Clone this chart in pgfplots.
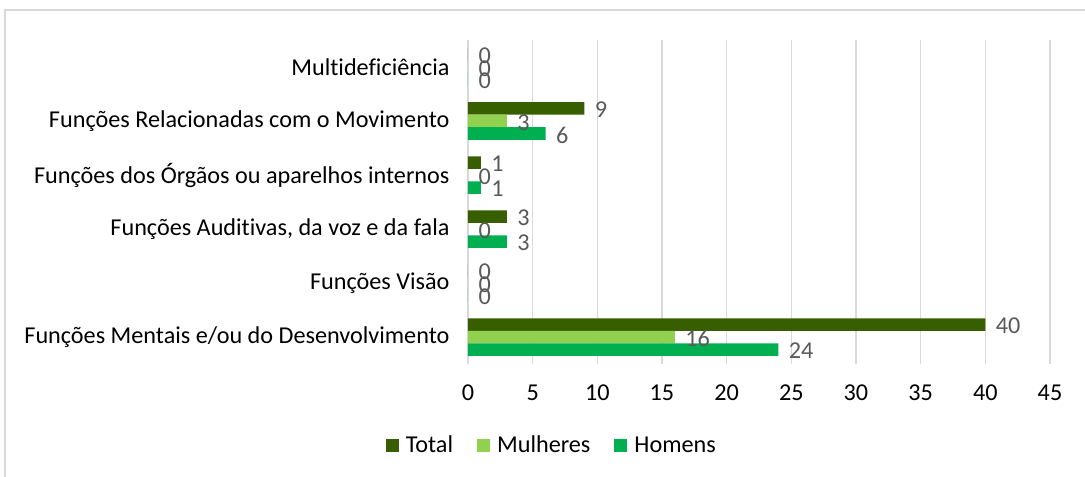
\documentclass[border=0pt]{standalone}
\usepackage{pgfplots}
\pgfplotsset{compat=1.18}
\usepackage{fontspec}
\setmainfont[Ligatures=NoCommon]{Carlito}
\definecolor{cTot}{HTML}{375F00}
\definecolor{cMul}{HTML}{92D050}
\definecolor{cHom}{HTML}{00B050}
\definecolor{gridc}{HTML}{D9D9D9}
\definecolor{lab}{HTML}{595959}
\begin{document}
\begin{tikzpicture}[font=\fontsize{24.2bp}{29bp}\selectfont]
\path[use as bounding box] (-468bp,-113bp) rectangle (617bp,364bp);
\draw[gridc, line width=1.5bp] (-463bp,-113bp) -- (-463bp,354bp) -- (617bp,354bp);
\begin{axis}[
  at={(0,0)}, anchor=south west,
  xbar, scale only axis, width=582bp, height=324bp,
  xmin=0, xmax=45, ymin=-0.5, ymax=5.5,
  xtick={0,5,...,45}, ytick={0,...,5},
  yticklabels={Funções Mentais e/ou do Desenvolvimento, Funções Visão, {Funções Auditivas, da voz e da fala}, Funções dos Órgãos ou aparelhos internos, Funções Relacionadas com o Movimento, Multideficiência},
  xmajorgrids, grid style={gridc, line width=1.3bp},
  axis line style={draw=none}, major tick length=0pt,
  /pgf/number format/assume math mode=true,
  xticklabel style={yshift=-17bp, text=black},
  yticklabel style={xshift=-15bp, text=black},
  bar width=12.5bp,
  nodes near coords,
  every node near coord/.append style={text=lab, anchor=west, xshift=7bp, yshift=-1.5bp},
  legend style={at={(0.144,-0.25)}, anchor=center, legend columns=3, draw=none, fill=none,
    /tikz/every even column/.append style={column sep=22bp}},
  legend image code/.code={\fill[#1] (0bp,-6.5bp) rectangle (13bp,6.5bp); \path (18bp,0bp);},
]
\addplot[fill=cTot, draw=none, bar shift=12.5bp] coordinates {(40,0) (0,1) (3,2) (1,3) (9,4) (0,5)};
\addplot[fill=cMul, draw=none, bar shift=0bp] coordinates {(16,0) (0,1) (0,2) (0,3) (3,4) (0,5)};
\addplot[fill=cHom, draw=none, bar shift=-12.5bp] coordinates {(24,0) (0,1) (3,2) (1,3) (6,4) (0,5)};
\legend{Total, Mulheres, Homens}
\end{axis}
\end{tikzpicture}
\end{document}
